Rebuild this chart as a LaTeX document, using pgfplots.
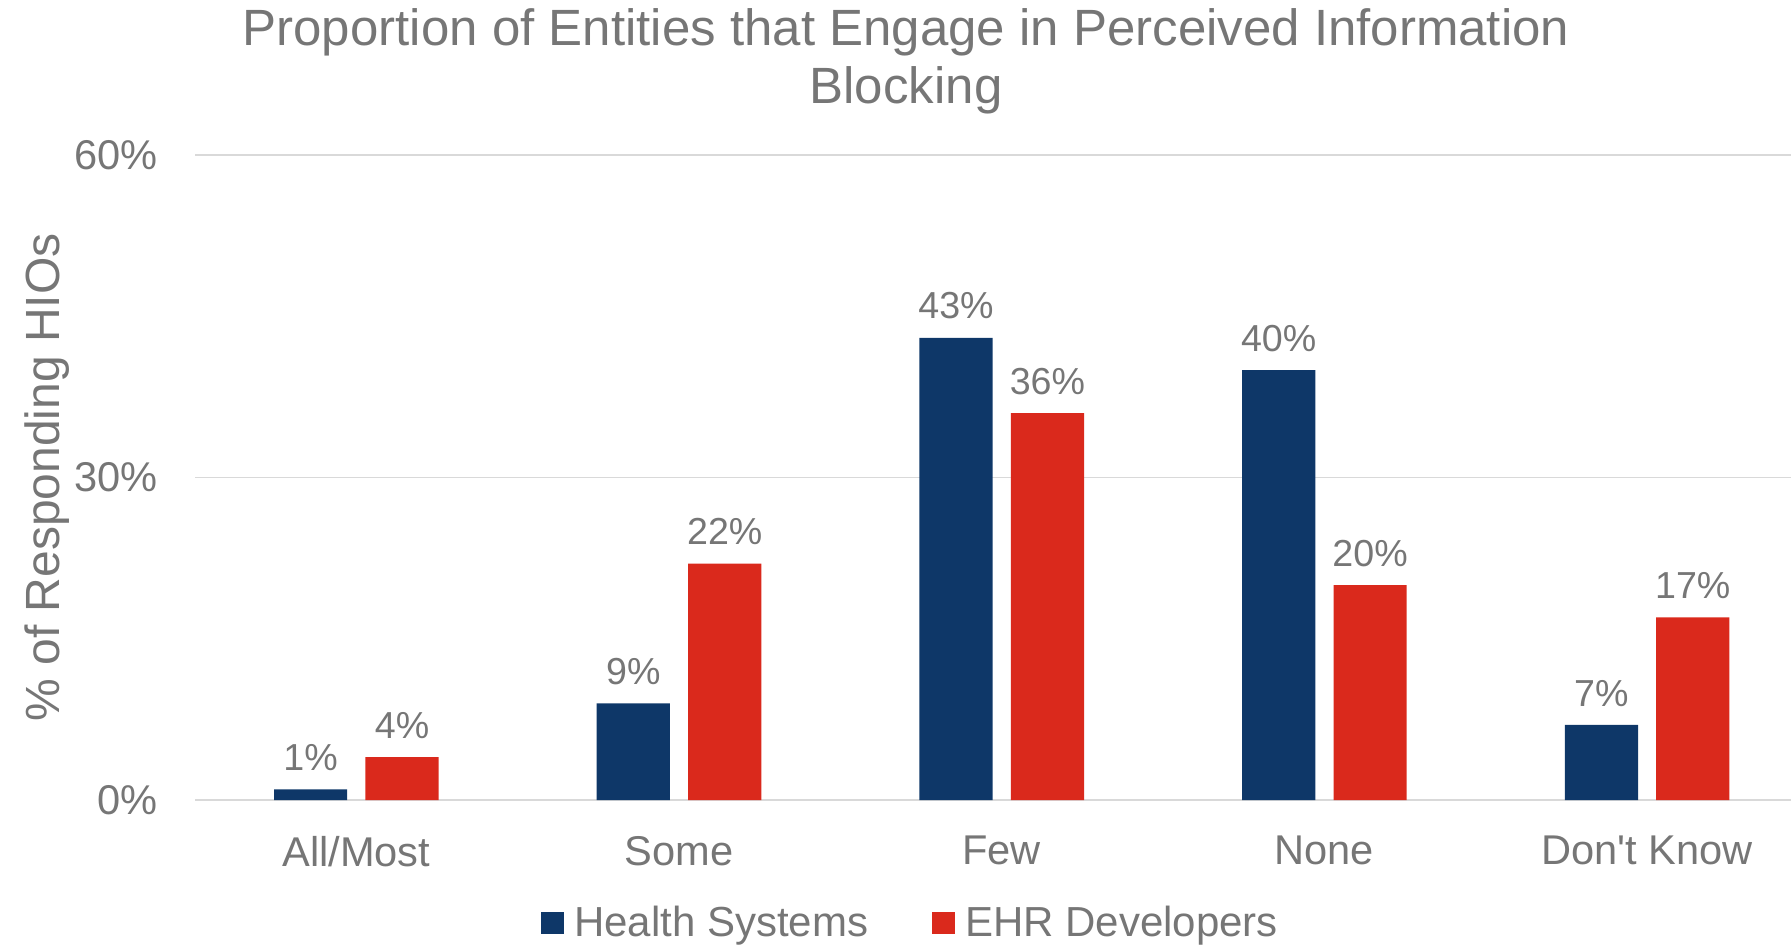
\documentclass[border=0pt]{standalone}
\usepackage{fontspec}
\setmainfont{Liberation Sans}
\usepackage{pgfplots}
\pgfplotsset{compat=1.18}
\definecolor{hsblue}{RGB}{14,55,104}
\definecolor{ehrred}{RGB}{218,41,28}
\definecolor{txtgray}{RGB}{118,118,118}
\definecolor{gridgray}{RGB}{217,217,217}
\begin{document}
\begin{tikzpicture}
\useasboundingbox (0,0) rectangle (895.5pt,472pt);
\begin{axis}[
  at={(97.5pt,72pt)}, anchor=south west,
  scale only axis, width=798pt, height=322.5pt,
  xmin=-0.5, xmax=4.446, ymin=0, ymax=60,
  ybar=9.1pt, bar width=36.6pt,
  axis line style={draw=none},
  major tick length=0pt,
  ymajorgrids, grid style={gridgray, line width=0.9pt},
  ytick={0,30,60},
  yticklabel={\pgfmathprintnumber{\tick}\%},
  xtick={0,1,2,3,4},
  xticklabels={All/Most,Some,Few,None,Don\textquotesingle t Know},
  /pgf/number format/assume math mode=true,
  tick label style={font=\fontsize{20.8}{24}\selectfont, text=txtgray, inner sep=0pt},
  yticklabel style={xshift=-18.5pt},
  xticklabel style={yshift=-17.8pt},
  ylabel={\% of Responding HIOs},
  ylabel style={at={(axis description cs:-0.0925,0.5)}, anchor=center, font=\fontsize{24}{28}\selectfont, text=txtgray},
  title={Proportion of Entities that Engage in Perceived Information\\Blocking},
  title style={at={(axis description cs:0.4455,1)}, anchor=north, yshift=67.2pt, align=center, font=\fontsize{25.5}{28.6}\selectfont, text=txtgray, inner sep=0pt},
  nodes near coords={\pgfmathprintnumber{\pgfplotspointmeta}\%},
  nodes near coords style={font=\fontsize{18.8}{22}\selectfont, text=txtgray, anchor=south, inner sep=0pt, yshift=9pt},
  legend style={at={(axis description cs:0.449,-0.1907)}, anchor=center, draw=none, fill=none, legend columns=2, font=\fontsize{21}{24}\selectfont, text=txtgray, /tikz/every odd column/.append style={column sep=3pt}, /tikz/every even column/.append style={column sep=30pt}},
  legend image code/.code={\fill[#1] (0pt,-5.7pt) rectangle (11.4pt,5.7pt);},
]
\addplot[fill=hsblue, draw=none] coordinates {(0,1) (1,9) (2,43) (3,40) (4,7)};
\addplot[fill=ehrred, draw=none] coordinates {(0,4) (1,22) (2,36) (3,20) (4,17)};
\legend{Health Systems, EHR Developers}
\end{axis}
\end{tikzpicture}
\end{document}
